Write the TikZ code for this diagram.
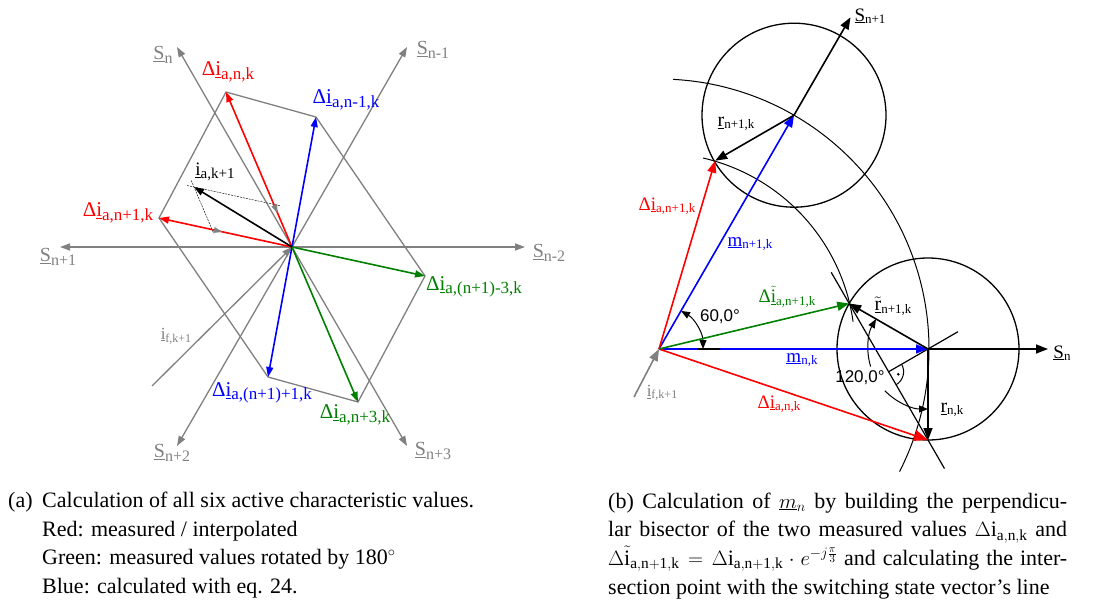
\documentclass[tikz,border=0pt]{standalone}
\usepackage{fontspec}
\setmainfont{Liberation Serif}
\newfontfamily\sansf{Liberation Sans}
\usetikzlibrary{arrows.meta,calc}
\definecolor{grayc}{RGB}{128,128,128}
\definecolor{greenc}{RGB}{0,128,0}
% #1 main size, #2 sub size, #3 lowering, #4 main text, #5 subscript
\newcommand\lbl[5]{{\fontsize{#1}{#1}\selectfont #4\raisebox{#3}{\fontsize{#2}{#2}\selectfont #5}}}
\newcommand\LD[1]{\lbl{21}{17}{-3.5pt}{Δ\underline{i}}{#1}}
\newcommand\LS[1]{\lbl{20}{16}{-3.5pt}{\underline{S}}{#1}}
\newcommand\RD[1]{\lbl{19}{13}{-2.5pt}{Δ\underline{i}}{#1}}
\newcommand\RDt[1]{\lbl{19}{13}{-2.5pt}{Δ\underline{$\tilde{\mathrm{i}}$}}{#1}}
\newcommand\RS[1]{\lbl{19}{13}{-2.5pt}{\underline{S}}{#1}}
\newcommand\capfont{\fontsize{22}{28.7}\selectfont}
\begin{document}
\begin{tikzpicture}[x=1pt,y=1pt,
  tipL/.style={-{Triangle[length=10pt,width=7pt]}},
  gaxis/.style={draw=grayc,line width=1.3pt,tipL},
  lvec/.style={line width=1.6pt,tipL},
  rvec/.style={line width=1.6pt,-{Triangle[length=12pt,width=9pt]}},
  thinc/.style={line width=1pt},
  angarr/.style={line width=1pt},
  helper/.style={line width=0.45pt,dash pattern=on 2pt off 1pt}]
\useasboundingbox (0,0) rectangle (1117,-610);

% ================= LEFT DIAGRAM =================
\coordinate (O) at (292,-247);
\coordinate (Snp1) at (60,-247);
\coordinate (Snm2) at (525,-247);
\coordinate (Sn) at (177,-47);
\coordinate (Snm1) at (407,-47);
\coordinate (Snp2) at (177,-446);
\coordinate (Snp3) at (407,-446);
\coordinate (If) at (152,-386);
\coordinate (H1) at (226,-92);
\coordinate (H2) at (316,-117);
\coordinate (H3) at (425,-276);
\coordinate (H4) at (358,-402);
\coordinate (H5) at (268,-377);
\coordinate (H6) at (159,-218);
\coordinate (T) at (194,-187);
\coordinate (E1) at (273.9,-204.4);
\coordinate (E2) at (212.1,-229.6);

\draw[grayc,line width=1.3pt] (H1)--(H2)--(H3)--(H4)--(H5)--(H6)--cycle;
\draw[gaxis] (O) -- (Snp1);
\draw[gaxis] (O) -- (Snm2);
\draw[gaxis] (O) -- (Sn);
\draw[gaxis] (O) -- (Snm1);
\draw[gaxis] (O) -- (Snp2);
\draw[gaxis] (O) -- (Snp3);
\draw[gaxis] (If) -- (O);

\draw[helper,shorten <=-7pt,shorten >=-6pt] (T) -- (E1);
\draw[helper,shorten <=-7pt,shorten >=-4pt] (T) -- (E2);

\draw[lvec,red] (O) -- (H1);
\draw[lvec,red] (O) -- (H6);
\draw[lvec,blue] (O) -- (H2);
\draw[lvec,blue] (O) -- (H5);
\draw[lvec,greenc] (O) -- (H3);
\draw[lvec,greenc] (O) -- (H4);
\draw[lvec,black] (O) -- (T);
\draw[grayc,line width=0.1pt,-{Triangle[length=8pt,width=6pt]}] (E1) -- ($(E1)!9pt!(O)$);
\draw[grayc,line width=0.1pt,-{Triangle[length=8pt,width=6pt]}] (E2) -- ($(E2)!10pt!(O)$);

\node[text=grayc] (lSn) at (163,-55) {\LS{n}};
\node[text=red] (lDn) at (228,-72) {\LD{a,n,k}};
\node[text=blue] (lDnm1) at (346,-100) {\LD{a,n-1,k}};
\node[text=grayc] (lSnm1) at (433,-50) {\LS{n-1}};
\node (lia) at (215,-172) {\lbl{19}{15}{-3.5pt}{\underline{i}}{a,k+1}};
\node[text=red] (lDnp1) at (118,-213) {\LD{a,n+1,k}};
\node[text=grayc] (lSnp1) at (58,-257) {\LS{n+1}};
\node[text=grayc] (lSnm2) at (549,-253) {\LS{n-2}};
\node[text=greenc] (lDg1) at (474,-287) {\LD{a,(n+1)-3,k}};
\node[text=grayc] (lif) at (176,-336) {\lbl{17}{12}{-3pt}{\underline{i}}{f,k+1}};
\node[text=blue] (lDb2) at (262,-393) {\LD{a,(n+1)+1,k}};
\node[text=greenc] (lDg2) at (355,-415) {\LD{a,n+3,k}};
\node[text=grayc] (lSnp2) at (172,-453) {\LS{n+2}};
\node[text=grayc] (lSnp3) at (433,-451) {\LS{n+3}};

% ================= RIGHT DIAGRAM =================
\coordinate (P) at (659,-349);
\coordinate (C1) at (928,-349);
\coordinate (C2) at (794,-115.2);
\coordinate (A) at (849.2,-303.5);
\coordinate (B) at (928,-440);
\coordinate (D) at (715.2,-160.7);
\coordinate (SnR) at (1048,-349);
\coordinate (Snp1R) at (850.5,-17.3);
\coordinate (IfR) at (634,-397);
\coordinate (M) at (888.6,-371.75);
\coordinate (Mb) at (957.9,-331.75);

\draw[line width=1.3pt] (C1) circle (91);
\draw[line width=1.3pt] (C2) circle (92);
\draw[thinc] ($(P)+(87:270)$) arc[start angle=87,end angle=-27,radius=270];
\draw[thinc] ($(P)+(77:196)$) arc[start angle=77,end angle=8,radius=196];
\draw[line width=1.2pt,shorten <=-36pt,shorten >=-33pt] (A) -- (B);
\draw[line width=1.2pt] (M) -- (Mb);
\draw[thinc] ($(M)+(-60:15)$) arc[start angle=-60,end angle=30,radius=15];
\fill ($(M)+(-15:10)$) circle (1.4);

\draw[angarr,{Triangle[length=9pt,width=7pt]}-] ($(C1)+(150:60)$) arc[start angle=150,end angle=197,radius=60];
\draw[angarr,-{Triangle[length=9pt,width=7pt]}] ($(C1)+(224:60)$) arc[start angle=224,end angle=270,radius=60];
\draw[angarr,{Triangle[length=9pt,width=7pt]}-{Triangle[length=9pt,width=7pt]}] ($(P)+(60:44)$) arc[start angle=60,end angle=0,radius=44];

\draw[rvec,blue] (P) -- (C1);
\draw[rvec,blue] (P) -- (C2);
\draw[line width=1.6pt] (697,-349) -- (720,-349);
\draw[rvec,red] (P) -- (D);
\draw[line width=1.6pt,red,-{Triangle[length=14pt,width=11pt]}] (P) -- (B);
\draw[rvec,greenc] (P) -- (A);
\draw[rvec] (C1) -- (SnR);
\draw[rvec] (C1) -- (A);
\draw[rvec] (C1) -- (B);
\draw[rvec] (C2) -- (Snp1R);
\draw[rvec] (C2) -- (D);
\draw[rvec,grayc] (IfR) -- (P);

\node (rSnp1) at (870,-16) {\RS{n+1}};
\node (rr1) at (736,-124) {\lbl{20}{13}{-2.5pt}{\underline{r}}{n+1,k}};
\node[text=red] (rD1) at (667,-206) {\RD{a,n+1,k}};
\node[text=blue] (rm1) at (750,-244) {\lbl{19}{13}{-2.5pt}{\underline{m}}{n+1,k}};
\node[text=greenc] (rDt) at (787,-297) {\RDt{a,n+1,k}};
\node (r60) at (720,-317) {\sansf\fontsize{17}{17}\selectfont 60,0°};
\node[text=blue] (rm0) at (802,-360) {\lbl{19}{13}{-2.5pt}{\underline{m}}{n,k}};
\node[text=red] (rD0) at (779,-404) {\RD{a,n,k}};
\node (rrt) at (893,-306) {\lbl{20}{13}{-2.5pt}{\underline{$\tilde{\mathrm{r}}$}}{n+1,k}};
\node (r120) at (860,-378) {\sansf\fontsize{17}{17}\selectfont 120,0°};
\node (rr0) at (952,-410) {\lbl{20}{13}{-2.5pt}{\underline{r}}{n,k}};
\node (rSn) at (1062,-353) {\RS{n}};
\node[text=grayc] (rif) at (662,-393) {\lbl{17}{12}{-2.5pt}{\underline{i}}{f,k+1}};

% ================= CAPTIONS =================
\node[anchor=base west,inner sep=0] (capa0) at (8,-507) {\capfont (a)};
\node[anchor=base west,inner sep=0] (capa1) at (42,-507) {\capfont Calculation of all six active characteristic values.};
\node[anchor=base west,inner sep=0] (capa2) at (42,-536) {\capfont Red: measured / interpolated};
\node[anchor=base west,inner sep=0] (capa3) at (42,-564) {\capfont Green: measured values rotated by 180$^\circ$};
\node[anchor=base west,inner sep=0] (capa4) at (42,-593) {\capfont Blue: calculated with eq. 24.};
\node[anchor=base west,inner sep=0] (capb) at (608,-508) {\parbox[t]{459pt}{\capfont (b) Calculation of $\underline{m}_n$ by building the perpendicu-\linebreak lar bisector of the two measured values $\Delta\mathrm{i}_{\mathrm{a,n,k}}$ and\linebreak $\Delta\tilde{\mathrm{i}}_{\mathrm{a,n+1,k}} = \Delta\mathrm{i}_{\mathrm{a,n+1,k}}\cdot e^{-j\frac{\pi}{3}}$ and calculating the inter-\linebreak section point with the switching state vector's line}};
\end{tikzpicture}
\end{document}
